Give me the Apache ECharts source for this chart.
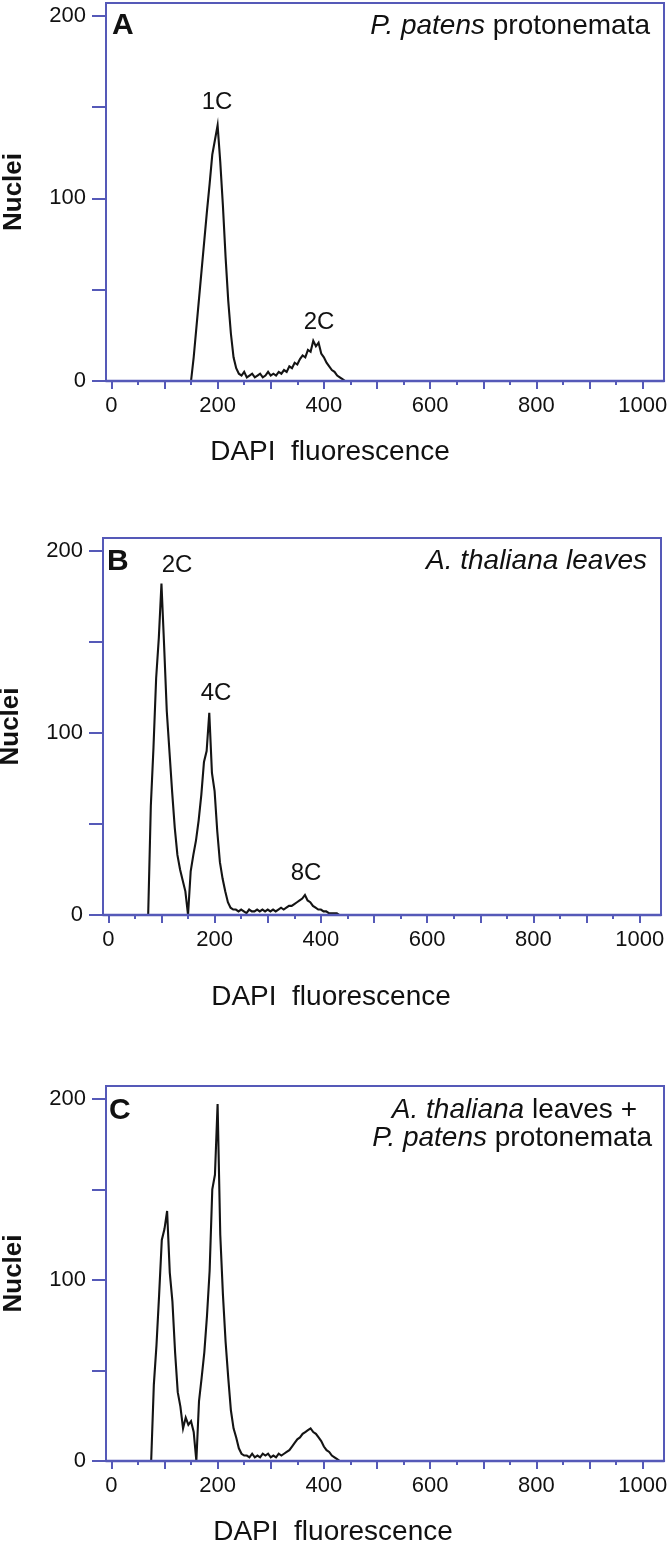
<!DOCTYPE html>
<html>
<head>
<meta charset="utf-8">
<title>DAPI fluorescence histograms</title>
<script src="https://cdn.jsdelivr.net/npm/echarts@6.0.0/dist/echarts.min.js"></script>
<style>
  html, body { margin: 0; padding: 0; background: #fff; }
  #main { width: 670px; height: 1557px; }
</style>
</head>
<body>
<div id="main"></div>
<script>
// DAPI channel (bin centre) and nuclei counts
const channels = [75,80,85,90,95,100,105,110,115,120,125,130,135,140,145,150,155,160,165,170,
  175,180,185,190,195,200,205,210,215,220,225,230,235,240,245,250,255,260,265,270,
  275,280,285,290,295,300,305,310,315,320,325,330,335,340,345,350,355,360,365,370,
  375,380,385,390,395,400,405,410,415,420,425,430,435,440,445,450];

// A: P. patens protonemata
const countsA = [0,0,0,0,0,0,0,0,0,0,0,0,0,0,0,0,13,29,45,61,
  77,93,108,124,132,140,120,96,68,44,26,13,7,4,3,5,2,3,4,2,
  3,4,2,3,5,3,4,3,5,4,6,5,8,7,10,9,12,14,13,17,
  16,22,19,21,15,13,10,8,6,5,3,2,1,0,0,0];

// B: A. thaliana leaves
const countsB = [0,60,92,130,152,182,148,112,90,68,48,33,25,19,13,0,24,33,41,52,
  66,84,90,111,78,68,46,29,20,13,7,4,3,3,2,3,2,1,3,2,
  2,3,2,3,2,3,2,3,2,3,4,3,4,5,5,6,7,8,9,11,
  8,7,5,4,3,3,2,2,1,1,1,1,0,0,0,0];

// C: A. thaliana leaves + P. patens protonemata
const countsC = [0,42,64,92,122,128,138,104,88,60,38,30,18,24,20,22,16,0,33,46,
  60,80,105,150,158,197,125,92,66,46,28,18,13,7,4,3,3,2,4,2,
  3,2,4,3,4,2,3,2,4,3,4,5,6,8,10,12,13,15,16,17,
  18,16,15,13,11,8,6,5,3,2,1,0,0,0,0,0];

const xMajor = [0,100,200,300,400,500,600,700,800,900,1000];
const xMinor = [50,150,250,350,450,550,650,750,850,950];
const xLabels = [0,200,400,600,800,1000];
const yTicks = [0,50,100,150,200];
const yLabels = [0,100,200];

const blue = '#5559b8';
const ink = '#111';
const fam = '"Liberation Sans", Arial, Helvetica, sans-serif';

// plot boxes in px
const boxes = [
  { left: 106, top: 3, width: 558, height: 378 },
  { left: 103, top: 538, width: 558, height: 377 },
  { left: 106, top: 1086, width: 558, height: 375 }
];
const allCounts = [countsA, countsB, countsC];

const grid = [], xAxis = [], yAxis = [], series = [];

boxes.forEach((b, i) => {
  grid.push({
    left: b.left, top: b.top, width: b.width, height: b.height,
    show: true, borderColor: blue, borderWidth: 2, backgroundColor: 'transparent',
    containLabel: false, outerBoundsMode: 'none'
  });
  // major ticks + labels
  xAxis.push({
    type: 'value', gridIndex: i, position: 'bottom', min: -10, max: 1040, z: 5,
    axisLine: { show: true, onZero: false, lineStyle: { color: blue, width: 2.4 } },
    axisTick: { show: true, customValues: xMajor, length: 8, lineStyle: { color: blue, width: 2 } },
    axisLabel: {
      customValues: xLabels, margin: 14, color: ink, fontSize: 22, fontFamily: fam,
      formatter: v => String(v)
    },
    splitLine: { show: false }
  });
  // minor ticks every 50
  xAxis.push({
    type: 'value', gridIndex: i, position: 'bottom', min: -10, max: 1040, z: 5,
    axisLine: { show: false, onZero: false },
    axisTick: { show: true, customValues: xMinor, length: 4, lineStyle: { color: blue, width: 2 } },
    axisLabel: { show: false },
    splitLine: { show: false }
  });
  yAxis.push({
    type: 'value', gridIndex: i, min: 0, max: 207, z: 5,
    axisLine: { show: true, onZero: false, lineStyle: { color: blue, width: 2 } },
    axisTick: { show: true, customValues: yTicks, length: 14, lineStyle: { color: blue, width: 2 } },
    axisLabel: {
      customValues: yLabels, margin: 20, color: ink, fontSize: 22, fontFamily: fam,
      formatter: v => String(v)
    },
    splitLine: { show: false },
    name: 'Nuclei', nameLocation: 'middle', nameRotate: 90, nameGap: 79,
    nameTextStyle: { color: ink, fontSize: 26, fontWeight: 'bold', fontFamily: fam }
  });
  series.push({
    type: 'line', xAxisIndex: i * 2, yAxisIndex: i, z: 2,
    showSymbol: false, silent: true,
    lineStyle: { color: '#141414', width: 2.1, join: 'miter' },
    data: channels.map((c, k) => [c, allCounts[i][k]])
  });
});

function txt(x, y, text, size, opt) {
  opt = opt || {};
  return {
    type: 'text', x: x, y: y, z: 10, silent: true,
    style: {
      text: text,
      font: (opt.weight || 'normal') + ' ' + size + 'px ' + fam,
      fill: ink,
      align: opt.align || 'left', textAlign: opt.align || 'left',
      verticalAlign: 'middle', textVerticalAlign: 'middle',
      rich: {
        i: { fontStyle: 'italic', fontSize: size, fontFamily: fam, fill: ink }
      }
    }
  };
}

const graphic = [
  // panel A
  txt(112, 26, 'A', 30, { weight: 'bold' }),
  txt(650, 26, '{i|P. patens} protonemata', 28, { align: 'right' }),
  txt(217, 102, '1C', 24, { align: 'center' }),
  txt(319, 322, '2C', 24, { align: 'center' }),
  txt(330, 452, 'DAPI  fluorescence', 28, { align: 'center' }),
  // panel B
  txt(107, 562, 'B', 30, { weight: 'bold' }),
  txt(647, 561, '{i|A. thaliana leaves}', 28, { align: 'right' }),
  txt(177, 565, '2C', 24, { align: 'center' }),
  txt(216, 693, '4C', 24, { align: 'center' }),
  txt(306, 873, '8C', 24, { align: 'center' }),
  txt(331, 997, 'DAPI  fluorescence', 28, { align: 'center' }),
  // panel C
  txt(109, 1111, 'C', 30, { weight: 'bold' }),
  txt(637, 1110, '{i|A. thaliana} leaves +', 28, { align: 'right' }),
  txt(652, 1138, '{i|P. patens} protonemata', 28, { align: 'right' }),
  txt(333, 1532, 'DAPI  fluorescence', 28, { align: 'center' })
];

const chart = echarts.init(document.getElementById('main'));
chart.setOption({
  animation: false,
  backgroundColor: '#fff',
  grid: grid,
  xAxis: xAxis,
  yAxis: yAxis,
  series: series,
  graphic: graphic
});
</script>
</body>
</html>
